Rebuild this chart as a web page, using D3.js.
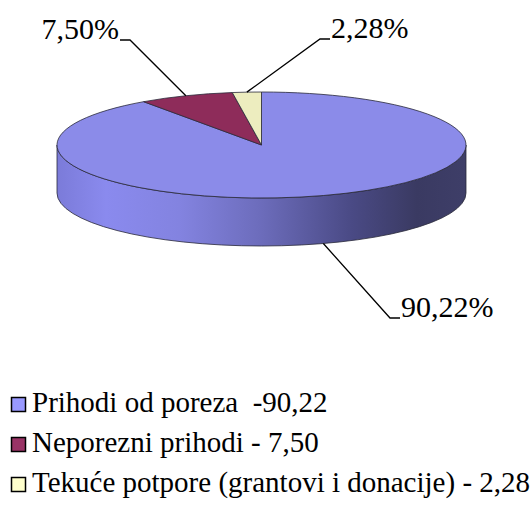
<!DOCTYPE html>
<html>
<head>
<meta charset="utf-8">
<script src="https://cdn.jsdelivr.net/npm/d3@7"></script>
<style>
  body { margin: 0; background: #fff; }
</style>
</head>
<body>
<div id="chart"></div>
<script>
// Data
var values = [90.22, 7.50, 2.28];
var legendLabels = ["Prihodi od poreza  -90,22", "Neporezni prihodi - 7,50", "Tekuće potpore (grantovi i donacije) - 2,28"];

var svg = d3.select("#chart")
  .append("svg")
  .attr("width", 531)
  .attr("height", 510);

// text layer first, shapes go underneath it
var pieG = svg.append("g");
var lineG = svg.append("g");
var textG = svg.append("g");

// pie geometry (3D ellipse)
var cx = 261.5, cy = 145, rx = 204.5, ry = 53, depth = 48;

var topColors = ["#8b8be9", "#8e2c5a", "#ededbf"];
var legendColors = ["#9999ff", "#993366", "#ffffcc"];

var pct = function(v) { return d3.format(".2f")(v).replace(".", ",") + "%"; };

var pie = d3.pie().sort(null).startAngle(0).endAngle(2 * Math.PI);
var arcs = pie(values);

function pt(a, dy) {
  return [cx + rx * Math.sin(a), cy - ry * Math.cos(a) + (dy || 0)];
}

// labels with leader lines
var labelPos = [
  { x: 390, y: 318, dir: 1 },
  { x: 130, y: 40, dir: -1 },
  { x: 320, y: 39, dir: 1 }
];

textG.selectAll(".pct")
  .data(arcs)
  .enter()
  .append("text")
  .attr("class", "pct")
  .attr("x", function(d, i) { return labelPos[i].x + labelPos[i].dir * 11; })
  .attr("y", function(d, i) { return labelPos[i].y - 1; })
  .attr("text-anchor", function(d, i) { return labelPos[i].dir > 0 ? "start" : "end"; })
  .attr("font-family", "Liberation Serif")
  .attr("font-size", "30px")
  .text(function(d) { return pct(d.value); });

// legend
var legendItem = textG.selectAll(".item")
  .data(legendLabels)
  .enter()
  .append("g")
  .attr("class", "item")
  .attr("transform", function(d, i) { return "translate(0," + (412 + i * 40) + ")"; });

legendItem.append("text")
  .attr("x", 32)
  .attr("y", 0)
  .attr("font-family", "Liberation Serif")
  .attr("font-size", "29px")
  .style("white-space", "pre")
  .text(function(d) { return d; });

legendItem.append("rect")
  .attr("x", 11.5).attr("y", -14.5)
  .attr("width", 14).attr("height", 14)
  .attr("fill", function(d, i) { return legendColors[i]; })
  .attr("stroke", "#000")
  .attr("stroke-width", 1.5);

// leader lines
arcs.forEach(function(d, i) {
  var mid = (d.startAngle + d.endAngle) / 2;
  var front = mid > Math.PI / 2 && mid < 3 * Math.PI / 2;
  var anchor = pt(mid, front ? depth : 0);
  var lp = labelPos[i];
  lineG.append("polyline")
    .attr("points", [anchor, [lp.x, lp.y], [lp.x + lp.dir * 10, lp.y]].join(" "))
    .attr("fill", "none")
    .attr("stroke", "#000")
    .attr("stroke-width", 1.3);
});

// gradient for the side wall
var grad = svg.append("defs").append("linearGradient")
  .attr("id", "sideGrad")
  .attr("gradientUnits", "userSpaceOnUse")
  .attr("x1", cx - rx).attr("x2", cx + rx)
  .attr("y1", 0).attr("y2", 0);
[[0, "#7b7bd9"], [0.12, "#8a8aee"], [0.3, "#8383e0"], [0.5, "#6c6cbb"], [0.72, "#4a4a85"], [0.88, "#3a3a62"], [1, "#3e3e68"]]
  .forEach(function(s) { grad.append("stop").attr("offset", s[0]).attr("stop-color", s[1]); });

// side walls: only the front half (angles between PI/2 and 3PI/2) is visible
arcs.forEach(function(d) {
  var a0 = Math.max(d.startAngle, Math.PI / 2);
  var a1 = Math.min(d.endAngle, 3 * Math.PI / 2);
  if (a1 <= a0) return;
  var p0 = pt(a0), p1 = pt(a1), p1b = pt(a1, depth), p0b = pt(a0, depth);
  pieG.append("path")
    .attr("d", "M" + p0 + " A" + rx + "," + ry + " 0 0 1 " + p1 +
      " L" + p1b + " A" + rx + "," + ry + " 0 0 0 " + p0b + " Z")
    .attr("fill", d.index === 0 ? "url(#sideGrad)" : topColors[d.index])
    .attr("stroke", "#2a2a3a")
    .attr("stroke-width", 0.8);
});

// top faces
pieG.selectAll(".slice")
  .data(arcs)
  .enter()
  .append("path")
  .attr("class", "slice")
  .attr("d", function(d) {
    var p0 = pt(d.startAngle), p1 = pt(d.endAngle);
    var large = (d.endAngle - d.startAngle) > Math.PI ? 1 : 0;
    return "M" + cx + "," + cy + " L" + p0 + " A" + rx + "," + ry + " 0 " + large + " 1 " + p1 + " Z";
  })
  .attr("fill", function(d) { return topColors[d.index]; })
  .attr("stroke", "#2a2a3a")
  .attr("stroke-width", 0.8)
  .attr("stroke-linejoin", "round");
</script>
</body>
</html>
